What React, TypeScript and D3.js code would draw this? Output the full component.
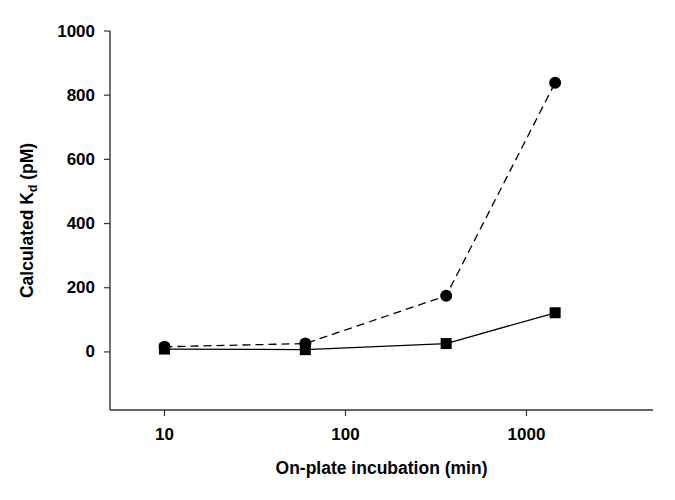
import React from "react";
import * as d3 from "d3";

const xMinutes = [10, 60, 360, 1440];
const circleKd = [16, 26, 175, 839];
const squareKd = [9, 7, 26, 122];
const xTicks = [10, 100, 1000];
const yTicks = [0, 200, 400, 600, 800, 1000];

const W = 675;
const H = 500;
const FONT = "'Liberation Sans', Arial, sans-serif";

export default function App() {
  const x = d3.scaleLog().domain([5, 5000]).range([110, 653]);
  const y = d3.scaleLinear().domain([-181, 1000]).range([410, 31]);

  const circlePts = xMinutes.map((m, i) => [x(m), y(circleKd[i])] as [number, number]);
  const squarePts = xMinutes.map((m, i) => [x(m), y(squareKd[i])] as [number, number]);
  const line = d3.line();

  const axisColor = "#333";
  const x0 = x.range()[0];
  const x1 = x.range()[1];
  const yB = y.range()[0];
  const yT = y.range()[1];

  return (
    <svg
      width={W}
      height={H}
      style={{ position: "absolute", left: 0, top: 0, background: "#fff" }}
      fontFamily={FONT}
    >
      {/* axes */}
      <line x1={x0} x2={x0} y1={yT} y2={yB} stroke={axisColor} strokeWidth={1.4} />
      <line x1={x0} x2={x1} y1={yB} y2={yB} stroke={axisColor} strokeWidth={1.4} />
      {yTicks.map((t) => (
        <g key={"y" + t}>
          <line x1={x0 - 6} x2={x0} y1={y(t)} y2={y(t)} stroke={axisColor} strokeWidth={1.2} />
          <text
            x={95}
            y={y(t)}
            textAnchor="end"
            dominantBaseline="central"
            fontSize={17}
            fontWeight="bold"
            fill="#000"
          >
            {t}
          </text>
        </g>
      ))}
      {xTicks.map((t) => (
        <g key={"x" + t}>
          <line x1={x(t)} x2={x(t)} y1={yB} y2={yB + 6} stroke={axisColor} strokeWidth={1.2} />
          <text
            x={x(t)}
            y={440}
            textAnchor="middle"
            fontSize={17}
            fontWeight="bold"
            fill="#000"
          >
            {t}
          </text>
        </g>
      ))}
      {/* axis titles */}
      <text
        x={(x0 + x1) / 2}
        y={474}
        textAnchor="middle"
        fontSize={17.5}
        fontWeight="bold"
        fill="#000"
      >
        On-plate incubation (min)
      </text>
      <text
        transform={`translate(33, ${(yT + yB) / 2}) rotate(-90)`}
        textAnchor="middle"
        fontSize={17.5}
        fontWeight="bold"
        fill="#000"
      >
        Calculated K
        <tspan fontSize={12} dy={4}>d</tspan>
        <tspan dy={-4}> (pM)</tspan>
      </text>

      {/* series lines */}
      <path
        d={line(circlePts) || ""}
        fill="none"
        stroke="#000"
        strokeWidth={1.3}
        strokeDasharray="8,5"
      />
      <path d={line(squarePts) || ""} fill="none" stroke="#000" strokeWidth={1.3} />

      {/* markers */}
      {squarePts.map(([px, py], i) => (
        <rect key={"s" + i} x={px - 5.5} y={py - 5.5} width={11} height={11} fill="#000" />
      ))}
      {circlePts.map(([px, py], i) => (
        <circle key={"c" + i} cx={px} cy={py} r={6} fill="#000" />
      ))}
    </svg>
  );
}
